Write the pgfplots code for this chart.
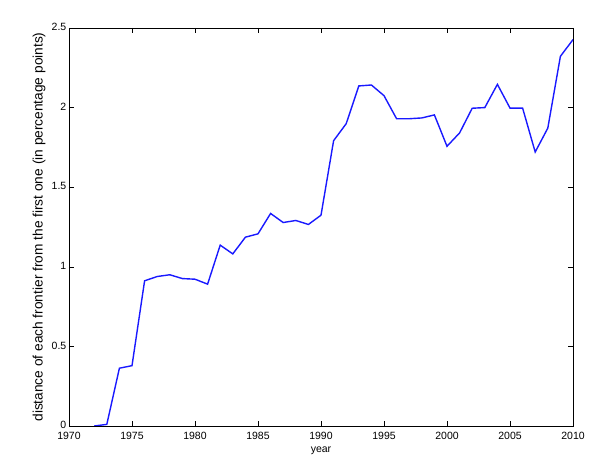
\documentclass[border=0pt]{standalone}
\usepackage{pgfplots}
\pgfplotsset{compat=1.18}
\usepackage{fontspec}
\setmainfont{Liberation Sans}
\begin{document}
\fontsize{10.5}{12}\selectfont
\begin{tikzpicture}
\begin{axis}[
  scale only axis,
  width=504pt, height=398pt,
  xmin=1970, xmax=2010, ymin=0, ymax=2.5,
  xtick={1970,1975,...,2010},
  ytick={0,0.5,1,1.5,2,2.5},
  xticklabel style={/pgf/number format/1000 sep={}},
  /pgf/number format/assume math mode=true,
  tick align=inside,
  major tick length=5pt,
  tick style={black, line width=0.5pt},
  axis line style={black, line width=0.6pt},
  xlabel={year},
  ylabel={distance of each frontier from the first one (in percentage points)},
  xlabel style={yshift=-0.5pt, font=\fontsize{10.5}{12}\selectfont},
  ylabel style={yshift=-1pt, font=\fontsize{13.7}{15}\selectfont},
  x tick label style={yshift=-2pt},
  y tick label style={xshift=1pt, yshift=1pt},
  tick label style={font=\fontsize{10.5}{12}\selectfont},
]
\addplot[color={rgb,1:red,0.1;green,0.1;blue,1}, line width=1.4pt] coordinates {
(1972,0) (1973,0.01) (1974,0.363) (1975,0.379) (1976,0.912) (1977,0.939)
(1978,0.950) (1979,0.926) (1980,0.922) (1981,0.891) (1982,1.136) (1983,1.081)
(1984,1.186) (1985,1.207) (1986,1.335) (1987,1.278) (1988,1.291) (1989,1.266)
(1990,1.324) (1991,1.792) (1992,1.899) (1993,2.136) (1994,2.142) (1995,2.075)
(1996,1.930) (1997,1.930) (1998,1.935) (1999,1.954) (2000,1.757) (2001,1.841)
(2002,1.996) (2003,2.000) (2004,2.146) (2005,1.997) (2006,1.997) (2007,1.721)
(2008,1.871) (2009,2.322) (2010,2.427)
};
\end{axis}
\path[use as bounding box] ([shift={(-69pt,-39pt)}]current axis.south west) rectangle ([shift={(27pt,28pt)}]current axis.north east);
\end{tikzpicture}
\end{document}
